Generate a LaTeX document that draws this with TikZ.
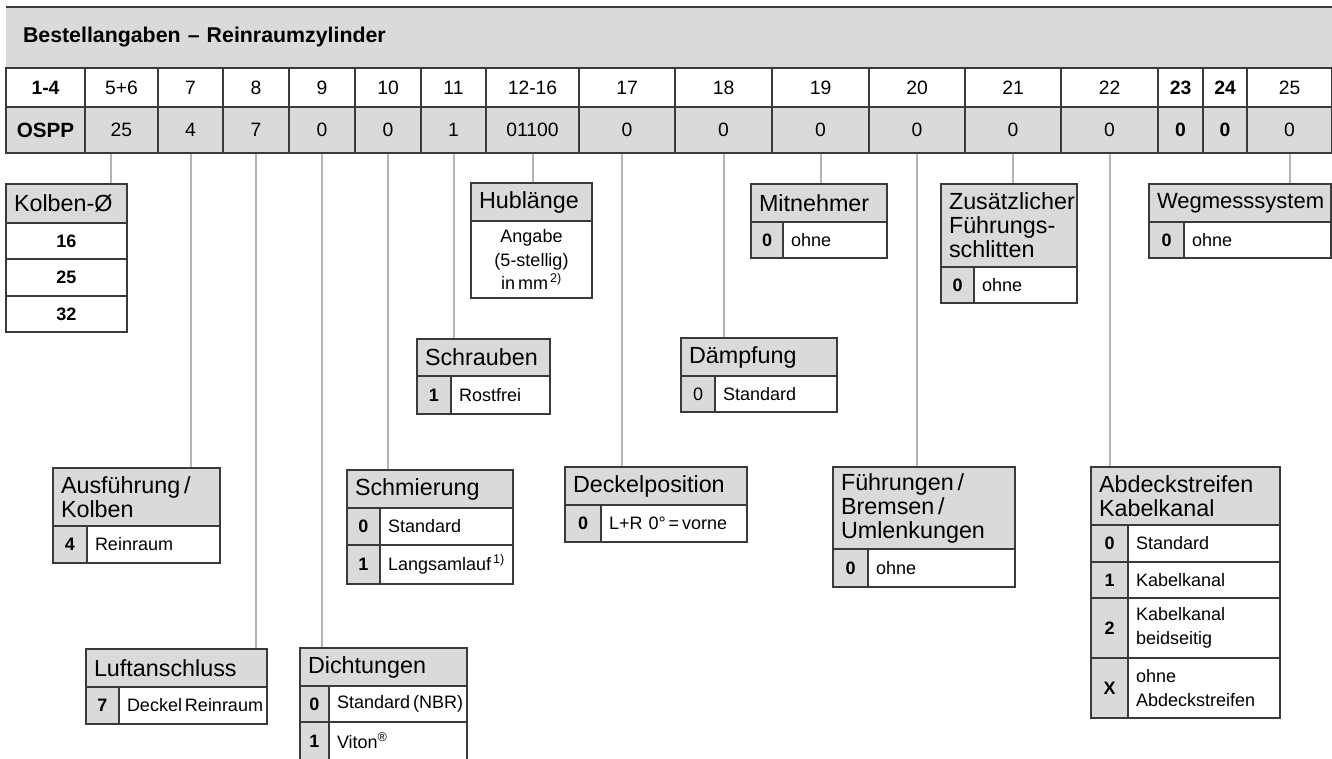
\documentclass[tikz,border=0pt]{standalone}
\usepackage{fontspec}
\setmainfont{Liberation Sans}
\usetikzlibrary{positioning}
\definecolor{framec}{HTML}{3A3A3A}
\definecolor{cellbg}{HTML}{D9DADC}
\definecolor{linkc}{HTML}{B4B4B4}
\newcommand\pxu{0.75pt}
\newcommand\hdrfont{\fontsize{17.5}{18}\selectfont}
\newcommand\txtfont{\fontsize{13.5}{18}\selectfont}
\newcommand\tabfont{\fontsize{14.5}{16}\selectfont}
\hyphenpenalty=10000
\tikzset{
  cellbox/.style={draw=framec,line width=1pt,anchor=north west,inner xsep=6pt,inner ysep=0pt,outer sep=0pt},
  hdr/.style={cellbox,fill=cellbg,align=left,font=\hdrfont},
  codec/.style={cellbox,fill=cellbg,inner xsep=0pt,font=\txtfont\bfseries},
  textc/.style={cellbox,fill=white,align=left,font=\txtfont},
  numc/.style={cellbox,fill=white,font=\txtfont\bfseries},
  poscell/.style={cellbox,fill=white,inner xsep=0pt,font=\tabfont},
  valcell/.style={poscell,fill=cellbg},
  conn/.style={linkc,line width=1.5pt,shorten <=0.5pt,shorten >=0.5pt}
}
% header of an option box: name, x, y, width, height, text
\newcommand\optbox[6]{%
  \pgfmathsetlengthmacro\boxw{#4*\pxu}%
  \pgfmathsetlengthmacro\boxtw{#4*\pxu-12pt}%
  \node[hdr,minimum width=\boxw,text width=\boxtw,minimum height=#5*\pxu] (#1) at (#2,#3) {#6};}
% one row: name, node above, height, code width, box width, code, text
\newcommand\optrow[7]{%
  \pgfmathsetlengthmacro\codew{#4*\pxu}%
  \pgfmathsetlengthmacro\restw{(#5-#4)*\pxu}%
  \pgfmathsetlengthmacro\resttw{(#5-#4)*\pxu-12pt}%
  \node[codec,minimum width=\codew,minimum height=#3*\pxu] (#1) at (#2.south west) {#6};
  \node[textc,minimum width=\restw,text width=\resttw,minimum height=#3*\pxu] (#1t) at (#1.north east) {#7};}

\begin{document}
\begin{tikzpicture}[x=\pxu,y=-\pxu]
\useasboundingbox (0,0) rectangle (1332,758);
\clip (0,0) rectangle (1332,758);

% title band
\pgfmathsetlengthmacro\titlew{1326*\pxu}
\pgfmathsetlengthmacro\titletw{1326*\pxu-25.5pt}
\node[fill=cellbg,anchor=north west,inner xsep=12.75pt,inner ysep=0pt,outer sep=0pt,minimum width=\titlew,text width=\titletw,
  minimum height=61*\pxu,align=left,font=\fontsize{16}{18}\selectfont\bfseries] (title) at (6,7)
  {Bestellangaben -- Reinraumzylinder};
\draw[framec,line width=1pt] (title.north west) -- (title.north east);

% position / value table
\foreach \xa/\xb/\pos/\val [count=\i] in {
  6/85/{\textbf{1-4}}/{\fontsize{15.5}{16}\selectfont\bfseries OSPP},
  85/158/5+6/25, 158/223/7/4, 223/289/8/7, 289/355/9/0, 355/421/10/0,
  421/486/11/1, 486/579/12-16/01100, 579/675/17/0, 675/772/18/0,
  772/869/19/0, 869/965/20/0, 965/1061/21/0, 1061/1158/22/0,
  1158/1203/{\textbf{23}}/{\textbf{0}}, 1203/1247/{\textbf{24}}/{\textbf{0}}, 1247/1332/25/0}
{
  \pgfmathsetlengthmacro\colw{(\xb-\xa)*\pxu}
  \node[poscell,minimum width=\colw,minimum height=39*\pxu] (p\i) at (\xa,68) {\pos};
  \node[valcell,minimum width=\colw,minimum height=46*\pxu] (v\i) at (\xa,107) {\val};
}

% upper boxes
\optbox{kolb}{6}{184}{121}{39}{Kolben-Ø}
\node[numc,minimum width=121*\pxu,minimum height=36*\pxu] (kolb1) at (kolb.south west) {16};
\node[numc,minimum width=121*\pxu,minimum height=37*\pxu] (kolb2) at (kolb1.south west) {25};
\node[numc,minimum width=121*\pxu,minimum height=36*\pxu] (kolb3) at (kolb2.south west) {32};

\optbox{hub}{471}{183}{121}{38}{Hublänge}
\pgfmathsetlengthmacro\hubtw{121*\pxu-12pt}
\node[textc,align=center,minimum width=121*\pxu,text width=\hubtw,minimum height=77*\pxu,
  font=\fontsize{13.5}{17.5}\selectfont] (hubt) at (hub.south west)
  {Angabe\\(5-stellig)\\in\,mm\textsuperscript{\,2)}};

\optbox{mitn}{751}{184}{136}{38}{Mitnehmer}
\optrow{mitn0}{mitn}{36}{32}{136}{0}{ohne}

\optbox{zus}{941}{184}{136}{83}{Zusätzlicher\\Führungs-\\schlitten}
\optrow{zus0}{zus}{36}{33}{136}{0}{ohne}

\optbox{weg}{1149}{184}{182}{38}{\fontsize{16.5}{18}\selectfont Wegmesssystem}
\optrow{weg0}{weg}{36}{35}{182}{0}{ohne}

\optbox{schr}{417}{339}{133}{37}{Schrauben}
\optrow{schr1}{schr}{38}{34}{133}{1}{Rostfrei}

\optbox{daem}{681}{338}{156}{38}{Dämpfung}
\optrow{daem0}{daem}{36}{34}{156}{\mdseries 0}{Standard}

% lower boxes
\optbox{ausf}{53}{468}{167}{58}{Ausführung\,/\\Kolben}
\optrow{ausf4}{ausf}{37}{34}{167}{4}{Reinraum}

\optbox{schm}{347}{470}{166}{38}{Schmierung}
\optrow{schm0}{schm}{37}{33}{166}{0}{Standard}
\optrow{schm1}{schm0}{39}{33}{166}{1}{Langsamlauf\textsuperscript{\,1)}}

\optbox{deck}{565}{467}{182}{38}{Deckelposition}
\optrow{deck0}{deck}{37}{36}{182}{0}{L+R 0°\,=\,vorne}

\optbox{fuhr}{833}{467}{182}{82}{Führungen\,/\\Bremsen\,/\\Umlenkungen}
\optrow{fuhr0}{fuhr}{38}{35}{182}{0}{ohne}

\optbox{abd}{1091}{467}{189}{58}{Abdeckstreifen\\Kabelkanal}
\optrow{abd0}{abd}{37}{37}{189}{0}{Standard}
\optrow{abd1}{abd0}{36}{37}{189}{1}{Kabelkanal}
\optrow{abd2}{abd1}{60}{37}{189}{2}{Kabelkanal\\beidseitig}
\optrow{abdx}{abd2}{60}{37}{189}{X}{ohne\\Abdeckstreifen}

\optbox{luft}{86}{649}{181}{38}{Luftanschluss}
\optrow{luft7}{luft}{37}{33}{181}{7}{Deckel\,Reinraum}

\optbox{dich}{300}{648}{167}{38}{Dichtungen}
\optrow{dich0}{dich}{36}{29}{167}{0}{Standard\,(NBR)}
\optrow{dich1}{dich0}{38}{29}{167}{1}{Viton\textsuperscript{\textregistered}}

% connectors
\foreach \i/\b in {3/ausf,4/luft,5/dich,6/schm,7/schr,8/hub,10/daem,11/mitn,12/fuhr,13/zus,14/abd,17/weg}
  \draw[conn] (v\i.south) -- (v\i.south |- \b.north);
\draw[conn] ([xshift=-10.5*\pxu]v2.south) -- ([xshift=-10.5*\pxu]v2.south |- kolb.north);
\draw[conn] ([xshift=-5*\pxu]v9.south) -- ([xshift=-5*\pxu]v9.south |- deck.north);
\end{tikzpicture}
\end{document}
